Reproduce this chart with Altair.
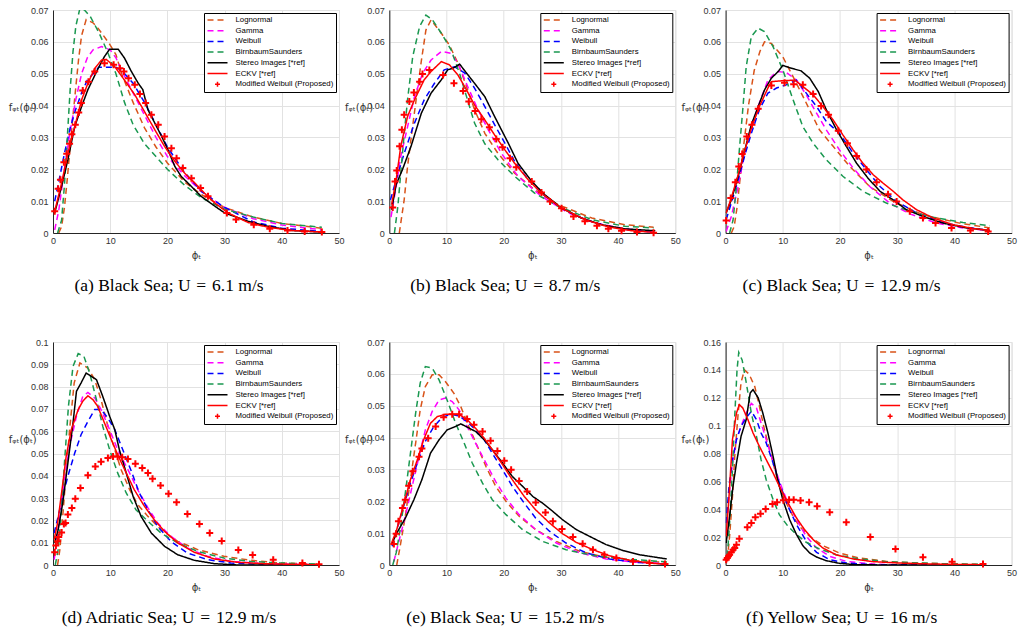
import altair as alt
import pandas as pd

SERIES = ["Lognormal", "Gamma", "Weibull", "BirnbaumSaunders",
          "Stereo Images [*ref]", "ECKV [*ref]", "Modified Weibull (Proposed)"]
COLORS = ["#D95319", "#FF00FF", "#0000FF", "#1A9850", "#000000", "#FF0000", "#FF0000"]
DASHES = [[6, 4], [6, 4], [6, 4], [6, 4], [1, 0], [1, 0], [1, 0]]
PLUS = "M-0.25,0H0.25M0,-0.25V0.25"
SHAPES = ["stroke"] * 6 + [PLUS]

X_TICKS = [0, 10, 20, 30, 40, 50]
Y_TICKS_07 = [0, 0.01, 0.02, 0.03, 0.04, 0.05, 0.06, 0.07]
Y_TICKS_10 = [0, 0.01, 0.02, 0.03, 0.04, 0.05, 0.06, 0.07, 0.08, 0.09, 0.1]
Y_TICKS_16 = [0, 0.02, 0.04, 0.06, 0.08, 0.1, 0.12, 0.14, 0.16]

CAPTIONS = ["(a) Black Sea; U\u2004=\u20046.1 m/s", "(b) Black Sea; U\u2004=\u20048.7 m/s",
            "(c) Black Sea; U\u2004=\u200412.9 m/s", "(d) Adriatic Sea; U\u2004=\u200412.9 m/s",
            "(e) Black Sea; U\u2004=\u200415.2 m/s", "(f) Yellow Sea; U\u2004=\u200416 m/s"]

# ---------------- panel (a) ----------------
A_LOGN = [(1, 0), (1.5, 0.002), (2, 0.008), (2.5, 0.017), (3, 0.027), (3.5, 0.037), (4, 0.046),
          (4.5, 0.055), (5, 0.062), (5.8, 0.067), (7, 0.066), (8, 0.064), (10, 0.059), (11, 0.056),
          (12, 0.050), (14, 0.041), (16, 0.033), (18, 0.027), (20, 0.022), (23, 0.016), (26, 0.012),
          (30, 0.008), (35, 0.005), (40, 0.003), (47, 0.0015)]
A_GAMMA = [(0.3, 0.001), (1, 0.007), (2, 0.020), (3, 0.032), (4, 0.042), (5, 0.050), (6, 0.055),
           (7, 0.0575), (8.5, 0.0585), (10, 0.0575), (11, 0.055), (12, 0.051), (14, 0.044), (16, 0.037),
           (18, 0.030), (20, 0.024), (23, 0.018), (26, 0.013), (30, 0.008), (35, 0.0045), (40, 0.0025),
           (47, 0.001)]
A_WEIB = [(0.3, 0.010), (1, 0.016), (2, 0.025), (3, 0.033), (4, 0.039), (5, 0.044), (6, 0.048),
          (7, 0.050), (8, 0.052), (9, 0.052), (10, 0.052), (11, 0.052), (12, 0.051), (14, 0.047),
          (16, 0.041), (18, 0.034), (20, 0.027), (23, 0.019), (26, 0.013), (30, 0.008), (35, 0.0035),
          (40, 0.0015), (47, 0.0005)]
A_BS = [(0.8, 0), (1.5, 0.004), (2, 0.015), (2.5, 0.030), (3, 0.045), (3.5, 0.057), (4, 0.065),
        (4.7, 0.0705), (5.5, 0.070), (6.5, 0.068), (8, 0.063), (9.5, 0.057), (11, 0.050), (12.5, 0.041),
        (14, 0.034), (16, 0.028), (18, 0.024), (20, 0.020), (23, 0.015), (26, 0.011), (30, 0.0075),
        (35, 0.005), (40, 0.003), (47, 0.0018)]
A_STEREO = [(0.3, 0.0063), (1.5, 0.0146), (2.6, 0.023), (3.8, 0.0334), (5, 0.0397), (6.1, 0.045),
            (7.9, 0.0517), (9, 0.0554), (9.9, 0.0577), (11.4, 0.0577), (12.5, 0.0549), (13.7, 0.0507),
            (14.9, 0.047), (15.7, 0.045), (16.6, 0.0387), (17.8, 0.0345), (19, 0.0303), (20.1, 0.0261),
            (21.3, 0.0209), (22.4, 0.0178), (24.2, 0.0146), (25.9, 0.0115), (28.3, 0.0084), (30, 0.0063),
            (34.1, 0.0037), (37.6, 0.0021), (41.7, 0.0008), (47, 0.0003)]
A_ECKV = [(0.3, 0.0068), (1.5, 0.0157), (2.6, 0.025), (3.8, 0.0334), (5, 0.0418), (6.1, 0.047),
          (7.3, 0.0517), (8.5, 0.0543), (9.3, 0.0545), (10.8, 0.0522), (12.5, 0.048), (14.3, 0.0434),
          (16, 0.0381), (17.8, 0.0324), (19.5, 0.0272), (21.3, 0.0225), (23, 0.0188), (24.8, 0.0157),
          (26.5, 0.0125), (28.3, 0.0094), (30.6, 0.0063), (34.1, 0.0033), (37.6, 0.0018), (41.7, 0.0008),
          (47, 0.0003)]
A_MW = [(0.3, 0.0068), (0.9, 0.0139), (1.3, 0.0167), (1.9, 0.0222), (2.4, 0.0249), (2.9, 0.028),
        (3.3, 0.031), (3.9, 0.034), (4.5, 0.0378), (4.96, 0.0408), (5.2, 0.0447), (6.2, 0.0475),
        (7.3, 0.0507), (9.0, 0.0533), (10.6, 0.0528), (11.7, 0.0517), (12.4, 0.0507), (13.2, 0.0486),
        (14.3, 0.0465), (15.2, 0.0436), (16.2, 0.0408), (17.2, 0.0371), (18.4, 0.034), (19.5, 0.0303),
        (20.7, 0.0266), (21.6, 0.0235), (22.7, 0.0204), (24.2, 0.0172), (25.8, 0.0141), (27.1, 0.0115),
        (30.4, 0.0063), (32.0, 0.0042), (35.1, 0.0026), (37.9, 0.0013), (41.0, 0.0008), (44.0, 0.0005),
        (47.0, 0.0003)]

# ---------------- panel (b) ----------------
B_LOGN = [(1.75, 0), (2.6, 0.0104), (3.2, 0.021), (3.9, 0.031), (4.7, 0.042), (5.6, 0.054), (6.4, 0.0637),
          (7.3, 0.0669), (9.1, 0.0627), (10.5, 0.059), (12, 0.0533), (13.5, 0.046), (14.9, 0.0387),
          (16.7, 0.0313), (19, 0.025), (21.9, 0.0188), (25.4, 0.0136), (29.5, 0.0089), (35.4, 0.0047),
          (41.2, 0.0026), (46.2, 0.0018)]
B_GAMMA = [(0.3, 0.005), (1.2, 0.0146), (2, 0.024), (3.2, 0.0334), (4.4, 0.0428), (5.8, 0.050),
           (7.3, 0.0543), (9.1, 0.057), (10.8, 0.0564), (12, 0.0533), (13.7, 0.046), (15.5, 0.0387),
           (17.3, 0.0324), (19.6, 0.025), (22.5, 0.0178), (26.6, 0.0115), (31.3, 0.0063), (36, 0.0031),
           (41.2, 0.0013), (46.2, 0.0005)]
B_WEIB = [(0.2, 0.0104), (1.2, 0.0167), (2.6, 0.025), (4.4, 0.0345), (6.1, 0.0418), (7.9, 0.047),
          (9.6, 0.0512), (11.4, 0.0522), (13.2, 0.0502), (14.9, 0.0455), (16.7, 0.0397), (18.4, 0.034),
          (20.2, 0.0282), (21.9, 0.0225), (24.3, 0.0167), (26.6, 0.0125), (30.1, 0.0078), (34.2, 0.0042),
          (38.3, 0.0021), (42.4, 0.0008), (46.2, 0.0003)]
B_BS = [(0.9, 0), (1.5, 0.0084), (2, 0.0188), (2.6, 0.031), (3.2, 0.042), (4.1, 0.0554), (5.3, 0.0648),
        (6.4, 0.0684), (7.5, 0.067), (9.1, 0.0627), (10.8, 0.0575), (12.3, 0.050), (13.5, 0.0428),
        (14.9, 0.0345), (16.7, 0.028), (19, 0.023), (21.9, 0.0178), (25.4, 0.0125), (29.5, 0.0084),
        (35.4, 0.0042), (41.2, 0.0021), (46.2, 0.0016)]
B_STEREO = [(0.4, 0.0073), (1.2, 0.0152), (2.3, 0.0199), (3.8, 0.0272), (5.6, 0.0376), (7.3, 0.0439),
            (9.1, 0.0481), (10.2, 0.0512), (11.1, 0.0517), (12.3, 0.053), (13.5, 0.0502), (14.9, 0.047),
            (16.7, 0.0428), (18.4, 0.0366), (19.6, 0.0324), (20.8, 0.0282), (22.5, 0.0219), (24.9, 0.0162),
            (27.2, 0.012), (30.1, 0.0078), (33.6, 0.0047), (37.1, 0.0026), (41.2, 0.0013), (46.5, 0.0007)]
B_ECKV = [(0.4, 0.0089), (1.2, 0.0167), (2, 0.0272), (3.2, 0.0366), (4.4, 0.0418), (6.1, 0.0481),
          (7.3, 0.0507), (9.1, 0.0538), (10.5, 0.0528), (12, 0.0496), (13.5, 0.0449), (14.9, 0.0402),
          (16.7, 0.0355), (18.4, 0.0308), (20.2, 0.0261), (21.9, 0.0219), (24.3, 0.0167), (26.6, 0.0125),
          (30.1, 0.0078), (34.2, 0.0042), (38.3, 0.0019), (42.4, 0.0007), (46.2, 0.0002)]
B_MW = [(0.6, 0.008), (1.0, 0.0162), (1.3, 0.0196), (1.8, 0.0272), (2.2, 0.0324), (2.6, 0.0371),
        (3.5, 0.0413), (4.3, 0.0441), (5.3, 0.0475), (5.8, 0.0499), (7.0, 0.0512), (9.4, 0.0496),
        (11.3, 0.047), (12.9, 0.0446), (13.9, 0.0413), (15.0, 0.0383), (16.1, 0.0357), (17.5, 0.0332),
        (18.7, 0.0295), (19.8, 0.0269), (21.1, 0.0235), (22.2, 0.0206), (24.9, 0.0162), (26.6, 0.0127),
        (28.1, 0.0099), (30.1, 0.0078), (32.2, 0.0052), (34.2, 0.0037), (36.3, 0.0023), (38.3, 0.0013),
        (40.6, 0.0007), (43.3, 0.0003), (46.2, 0.0001)]

# ---------------- panel (c) ----------------
C_LOGN = [(1, 0), (1.5, 0.002), (2, 0.008), (3, 0.025), (4, 0.040), (5, 0.051), (6, 0.057), (6.8, 0.060),
          (8, 0.0595), (10, 0.0553), (12.1, 0.048), (14.1, 0.0408), (16.4, 0.0324), (18.8, 0.0272),
          (21.7, 0.0209), (25.2, 0.0146), (29.3, 0.0099), (34.5, 0.0057), (40.9, 0.0031), (46.2, 0.0016)]
C_GAMMA = [(0.1, 0.0005), (1, 0.0052), (2.2, 0.0146), (3.3, 0.025), (4.5, 0.0334), (5.9, 0.0408),
           (7.4, 0.048), (8.9, 0.0507), (10.6, 0.0504), (12.4, 0.048), (14.1, 0.0434), (15.9, 0.0376),
           (17.6, 0.0324), (19.9, 0.0261), (22.3, 0.0204), (25.2, 0.0146), (28.7, 0.0094), (32.2, 0.006),
           (36.9, 0.0031), (41.5, 0.0016), (46.2, 0.0007)]
C_WEIB = [(0.1, 0.0042), (1, 0.0094), (2.2, 0.0167), (3.3, 0.024), (4.5, 0.0313), (5.9, 0.0387),
          (7.4, 0.0439), (8.9, 0.0455), (10.6, 0.0465), (12.4, 0.048), (14.1, 0.0439), (15.9, 0.0397),
          (17.6, 0.035), (19.9, 0.0313), (22.3, 0.0251), (24.6, 0.0199), (27, 0.0146), (29.9, 0.0099),
          (33.4, 0.0063), (38, 0.0033), (42.1, 0.0018), (46.2, 0.0008)]
C_BS = [(0.7, 0), (1.3, 0.004), (1.9, 0.0146), (2.4, 0.026), (3, 0.0387), (3.6, 0.0522), (4.5, 0.0617),
        (5.7, 0.0643), (6.8, 0.0632), (8.3, 0.0585), (10, 0.0512), (11.8, 0.0418), (13.5, 0.0334),
        (15.3, 0.0282), (17.6, 0.023), (20.5, 0.0178), (24, 0.0131), (28.1, 0.0094), (32.2, 0.0068),
        (36.9, 0.0047), (41.5, 0.0033), (46.2, 0.0023)]
C_STEREO = [(0.1, 0.0063), (1, 0.0104), (2.2, 0.0178), (3.3, 0.0256), (4.5, 0.034), (5.7, 0.0397),
            (6.8, 0.0449), (8, 0.0486), (9.2, 0.0507), (10, 0.0526), (11.5, 0.0517), (13.2, 0.0509),
            (14.7, 0.0486), (16.2, 0.0444), (17.6, 0.0387), (19.4, 0.0324), (21.1, 0.0272), (22.9, 0.0219),
            (24.9, 0.0172), (27, 0.0131), (29.3, 0.0104), (31.6, 0.0073), (34.5, 0.0052), (38, 0.0031),
            (42.1, 0.0016), (46.2, 0.0008)]
C_ECKV = [(0.1, 0.0063), (1, 0.011), (2.2, 0.0183), (3.3, 0.0256), (4.5, 0.0329), (5.9, 0.0397),
          (7.4, 0.0455), (8, 0.0475), (10, 0.0478), (12.1, 0.048), (13.5, 0.046), (15.3, 0.0434),
          (17, 0.0397), (18.8, 0.0355), (20.5, 0.0308), (22.3, 0.0261), (24, 0.0219), (25.8, 0.0183),
          (27.5, 0.0157), (29.3, 0.0131), (31, 0.0104), (33.4, 0.0073), (36.3, 0.0047), (39.8, 0.0026),
          (43.3, 0.0014), (46.2, 0.0008)]
C_MW = [(0.1, 0.0039), (0.9, 0.011), (1.7, 0.0159), (2.3, 0.0209), (2.9, 0.0248), (3.7, 0.0303),
        (4.6, 0.034), (5.7, 0.039), (8.0, 0.0463), (10.3, 0.0472), (11.9, 0.0467), (13.5, 0.0465),
        (15.3, 0.0436), (16.7, 0.0399), (18.0, 0.0371), (19.7, 0.0321), (21.3, 0.0282), (22.9, 0.0242),
        (24.6, 0.0199), (26.4, 0.0159), (28.4, 0.0122), (29.9, 0.0099), (32.2, 0.0068), (34.5, 0.0047),
        (36.7, 0.0031), (39.5, 0.0016), (42.8, 0.0008), (45.9, 0.0005)]

# ---------------- panel (d) ----------------
D_LOGN = [(0.8, 0), (1.2, 0.0069), (1.7, 0.0218), (2.3, 0.0413), (2.9, 0.0607), (3.7, 0.0816),
          (4.7, 0.0906), (6.1, 0.0883), (7.3, 0.0831), (8.4, 0.0741), (9.6, 0.0622), (10.8, 0.0517),
          (11.9, 0.0428), (13.4, 0.0338), (14.8, 0.0271), (16.6, 0.0218), (18.9, 0.0158), (21.8, 0.0106),
          (25.3, 0.0069), (29.9, 0.0039), (34.6, 0.0021), (39.8, 0.0009), (46.5, 0.0003)]
D_GAMMA = [(0.2, 0.0024), (0.6, 0.0099), (1.2, 0.0218), (2, 0.0383), (2.9, 0.0532), (4.1, 0.0667),
           (5.2, 0.0756), (6.1, 0.0774), (7.3, 0.0749), (8.4, 0.0697), (9.9, 0.0607), (11.3, 0.0517),
           (13.1, 0.0428), (14.8, 0.0338), (16.6, 0.0256), (18.3, 0.0188), (20.6, 0.0129), (23.5, 0.0076),
           (27, 0.0039), (31.1, 0.0016), (36.9, 0.0006), (46.5, 0.0001)]
D_WEIB = [(0.2, 0.0143), (0.9, 0.0218), (1.7, 0.0308), (2.6, 0.0398), (3.8, 0.0502), (4.9, 0.0584),
          (6.1, 0.0644), (7.3, 0.0697), (8.4, 0.0697), (9.6, 0.0659), (10.8, 0.0607), (12.2, 0.0517),
          (13.7, 0.042), (15.1, 0.0323), (16.6, 0.0248), (18.3, 0.0173), (20.6, 0.0106), (23.5, 0.0054),
          (27, 0.0024), (31.1, 0.0009), (36.9, 0.0003), (46.5, 0)]
D_BS = [(0.4, 0), (0.9, 0.0069), (1.5, 0.0248), (2, 0.0457), (2.7, 0.0712), (3.5, 0.0891), (4.4, 0.0948),
        (5.4, 0.0936), (6.4, 0.0861), (7.6, 0.0741), (8.7, 0.0622), (9.9, 0.0517), (11.3, 0.0413),
        (12.8, 0.0323), (14.5, 0.0248), (16.6, 0.0196), (18.9, 0.0143), (21.8, 0.0099), (25.3, 0.0061),
        (29.9, 0.0031), (34.6, 0.0016), (39.8, 0.0009), (46.5, 0.0004)]
D_STEREO = [(0.3, 0.0099), (0.9, 0.0158), (1.7, 0.0278), (2.6, 0.0457), (3.5, 0.0637), (4.1, 0.0779),
            (4.9, 0.0816), (5.8, 0.0861), (6.7, 0.0846), (7.6, 0.0831), (8.7, 0.0756), (9.9, 0.0667),
            (10.8, 0.0607), (11.6, 0.0517), (12.8, 0.0413), (14, 0.0308), (15.4, 0.0218), (17.2, 0.0143),
            (19.5, 0.0084), (21.8, 0.0046), (24.7, 0.0021), (28.2, 0.0006), (32.3, 0), (46.5, 0)]
D_ECKV = [(0.2, 0.0114), (0.8, 0.0188), (1.5, 0.0323), (2.3, 0.0487), (3.2, 0.0607), (4.4, 0.0697),
          (5.2, 0.0734), (6.1, 0.0759), (7, 0.0741), (7.8, 0.0712), (9, 0.0637), (10.2, 0.0562),
          (11.3, 0.0495), (12.8, 0.0413), (14.2, 0.0338), (16, 0.0263), (17.7, 0.0203), (19.5, 0.0151),
          (21.8, 0.0099), (24.7, 0.0057), (28.2, 0.0027), (32.3, 0.0012), (36.9, 0.0006), (41.6, 0.0003),
          (46.5, 0.0001)]
D_MW = [(0.3, 0.0057), (0.5, 0.0087), (0.8, 0.0106), (1.0, 0.0126), (1.5, 0.0146), (1.9, 0.0184),
        (2.2, 0.0188), (2.6, 0.0226), (3.3, 0.0256), (3.9, 0.0297), (4.8, 0.0345), (6.1, 0.0402),
        (7.4, 0.0442), (8.4, 0.0463), (9.6, 0.048), (10.5, 0.0486), (11.3, 0.0486), (12.1, 0.0483),
        (13.1, 0.0475), (14.4, 0.0454), (15.6, 0.0435), (16.6, 0.0413), (17.4, 0.0387), (18.8, 0.0356),
        (20.2, 0.032), (21.6, 0.0281), (23.5, 0.0229), (25.6, 0.0184), (27.4, 0.0144), (29.5, 0.0108),
        (32.4, 0.0067), (34.9, 0.0045), (38.5, 0.0024), (43.6, 0.0009), (46.5, 0.0003)]

# ---------------- panel (e) ----------------
E_LOGN = [(1.3, 0), (1.9, 0.0059), (2.8, 0.0153), (3.7, 0.0268), (4.6, 0.0382), (5.4, 0.0487), (6.3, 0.056),
          (7.5, 0.0597), (8.7, 0.0597), (9.8, 0.0576), (11.3, 0.0539), (12.5, 0.0497), (13.9, 0.0435),
          (15.4, 0.0372), (16.9, 0.0309), (18.6, 0.0247), (20.4, 0.020), (22.7, 0.0153), (25.6, 0.0111),
          (29.2, 0.0074), (33.3, 0.0043), (37.9, 0.0024), (42.6, 0.0014), (48.5, 0.0008)]
E_GAMMA = [(0.8, 0.0011), (1.6, 0.0069), (2.8, 0.0153), (4, 0.0247), (5.2, 0.0341), (6.3, 0.0424),
           (7.5, 0.0482), (8.7, 0.0518), (9.8, 0.0524), (11, 0.0513), (12.2, 0.0487), (13.6, 0.0435),
           (15.1, 0.0382), (16.9, 0.032), (18.6, 0.0262), (20.4, 0.021), (22.7, 0.0158), (25.6, 0.0111),
           (29.2, 0.0069), (33.3, 0.0038), (37.9, 0.0019), (42.6, 0.0009), (48.5, 0.0004)]
E_WEIB = [(0.5, 0.0059), (1.3, 0.0111), (2.5, 0.0184), (3.7, 0.0257), (4.9, 0.032), (6.3, 0.0388),
          (7.8, 0.0435), (9.3, 0.0464), (10.7, 0.0473), (12.2, 0.0468), (13.6, 0.045), (15.1, 0.0424),
          (16.6, 0.0393), (18, 0.0351), (19.8, 0.0299), (21.5, 0.0247), (23.6, 0.0194), (25.6, 0.0147),
          (28, 0.0106), (30.9, 0.0069), (34.4, 0.0038), (38.5, 0.0019), (43.2, 0.0008), (48.5, 0.0003)]
E_BS = [(0.6, 0), (1.2, 0.0038), (1.9, 0.0111), (2.8, 0.0226), (3.7, 0.0351), (4.6, 0.0476), (5.4, 0.0571),
        (6.3, 0.0623), (7.5, 0.0618), (8.7, 0.0581), (10.1, 0.0518), (11.6, 0.0445), (13.1, 0.0382),
        (14.5, 0.032), (16.3, 0.0257), (18, 0.0205), (20.4, 0.0158), (23.3, 0.0111), (26.8, 0.0074),
        (30.9, 0.0048), (35.6, 0.003), (40.9, 0.0019), (48.5, 0.001)]
E_STEREO = [(0.5, 0.0069), (1.3, 0.010), (2.8, 0.0147), (4.3, 0.0205), (5.7, 0.0268), (7.2, 0.0351),
            (8.7, 0.0393), (10.1, 0.0424), (11.6, 0.0435), (12.5, 0.0443), (13.6, 0.0433), (15.1, 0.0419),
            (16.6, 0.0393), (18, 0.0362), (19.8, 0.032), (21.5, 0.0278), (23.3, 0.0247), (25.1, 0.0215),
            (26.8, 0.0194), (28.6, 0.0168), (30.3, 0.0142), (32.7, 0.0111), (35, 0.009), (37.9, 0.0064),
            (40.9, 0.0045), (43.8, 0.0032), (48.5, 0.0019)]
E_ECKV = [(0.4, 0.0069), (1.3, 0.0111), (2.5, 0.0189), (3.7, 0.0268), (4.9, 0.033), (6, 0.0393),
          (7.2, 0.0445), (8.4, 0.0466), (9.8, 0.0473), (12.2, 0.0473), (13.6, 0.0456), (15.1, 0.0429),
          (16.6, 0.0398), (18, 0.0362), (19.8, 0.0315), (21.5, 0.0268), (23.6, 0.0215), (25.6, 0.0173),
          (28, 0.0132), (30.3, 0.0098), (32.7, 0.0071), (35.6, 0.0048), (38.5, 0.0029), (42, 0.0015),
          (45.5, 0.0006), (48.5, 0.0002)]
E_MW = [(0.8, 0.0066), (1.2, 0.0098), (1.6, 0.0137), (2.3, 0.0179), (2.8, 0.0205), (3.4, 0.0249),
        (4.1, 0.0294), (5.2, 0.034), (5.7, 0.0366), (6.8, 0.0398), (8.1, 0.0435), (9.5, 0.0464),
        (11.0, 0.0473), (12.2, 0.0473), (13.6, 0.0458), (14.8, 0.044), (16.3, 0.0419), (17.7, 0.039),
        (18.9, 0.0358), (20.1, 0.0327), (21.3, 0.0299), (22.7, 0.0264), (24.1, 0.0231), (25.6, 0.0196),
        (27.3, 0.0165), (28.6, 0.0137), (30.2, 0.0113), (32.1, 0.0088), (33.8, 0.0067), (35.6, 0.0048),
        (37.6, 0.0032), (39.7, 0.0022), (42.6, 0.0011), (45.5, 0.0006), (48.2, 0.0003)]

# ---------------- panel (f) ----------------
F_LOGN = [(0.3, 0.0038), (0.7, 0.0206), (1.2, 0.0493), (1.6, 0.078), (2.2, 0.109), (2.7, 0.131),
          (3.3, 0.140), (4.1, 0.137), (5.1, 0.128), (5.9, 0.114), (6.8, 0.097), (7.7, 0.0828), (8.6, 0.0684),
          (9.4, 0.0565), (10.6, 0.0445), (11.8, 0.0349), (12.9, 0.0278), (14.7, 0.0206), (17, 0.0139),
          (19.9, 0.0086), (23.4, 0.005), (28.1, 0.0026), (33.9, 0.0014), (40.3, 0.0007), (45, 0.0005)]
F_GAMMA = [(0.1, 0.023), (0.6, 0.0493), (1.2, 0.0732), (1.9, 0.090), (2.7, 0.0995), (3.6, 0.109),
           (4.5, 0.116), (5.4, 0.1127), (6.2, 0.1019), (7.1, 0.090), (8.3, 0.0744), (9.4, 0.060),
           (10.9, 0.0445), (12.4, 0.0325), (14.1, 0.0206), (15.9, 0.0122), (18.2, 0.0062), (21.1, 0.0026),
           (25.8, 0.0007), (31.6, 0), (45, 0)]
F_WEIB = [(0.1, 0.0301), (0.6, 0.0565), (1.2, 0.0756), (1.9, 0.090), (2.7, 0.0995), (3.6, 0.1055),
          (4.5, 0.1103), (5.4, 0.1043), (6.2, 0.0947), (7.1, 0.0876), (8.3, 0.0732), (9.4, 0.0589),
          (10.9, 0.0421), (12.4, 0.029), (14.1, 0.017), (15.9, 0.0091), (18.2, 0.0038), (21.1, 0.0014),
          (25.8, 0.0002), (45, 0)]
F_BS = [(0.3, 0.0062), (0.7, 0.0301), (1.2, 0.0684), (1.6, 0.107), (2, 0.140), (2.3, 0.1526), (2.9, 0.147),
        (3.6, 0.131), (4.5, 0.109), (5.4, 0.0923), (6.2, 0.0756), (7.1, 0.0612), (8.3, 0.0469), (9.4, 0.0361),
        (10.9, 0.0278), (12.4, 0.0218), (14.1, 0.0163), (16.4, 0.0115), (19.3, 0.0074), (23.4, 0.0043),
        (28.1, 0.0024), (33.9, 0.0014), (40.3, 0.0007), (45, 0.0005)]
F_STEREO = [(0.1, 0.0158), (0.7, 0.0349), (1.3, 0.0565), (1.9, 0.0732), (2.7, 0.0923), (3.6, 0.1043),
            (4.3, 0.1234), (4.8, 0.1258), (5.7, 0.1199), (6.5, 0.1091), (7.4, 0.0947), (8.3, 0.078),
            (9.1, 0.0612), (10, 0.0469), (11.2, 0.0325), (12.4, 0.0218), (13.5, 0.0139), (14.7, 0.0086),
            (15.9, 0.0057), (17.6, 0.0031), (19.9, 0.0012), (22.8, 0.0002), (28.7, 0), (45, 0)]
F_ECKV = [(0.1, 0.0206), (0.6, 0.0493), (1.2, 0.090), (1.9, 0.109), (2.4, 0.1151), (3, 0.1127),
          (3.9, 0.1043), (4.8, 0.0947), (5.9, 0.0852), (7.1, 0.0756), (8.3, 0.066), (9.4, 0.0565),
          (10.9, 0.0445), (12.4, 0.0337), (13.8, 0.0254), (15.3, 0.0182), (17, 0.0122), (19.3, 0.0074),
          (22.3, 0.0043), (25.8, 0.0024), (30.4, 0.0014), (36.2, 0.0007), (45, 0.0002)]
F_MW = [(0.1, 0.0038), (0.3, 0.005), (0.5, 0.0062), (0.7, 0.0074), (1.0, 0.0091), (1.3, 0.011),
        (1.6, 0.0122), (1.9, 0.0146), (2.4, 0.0189), (3.8, 0.027), (4.5, 0.0301), (5.2, 0.0342),
        (6.1, 0.0368), (7.0, 0.0402), (8.2, 0.0438), (9.0, 0.045), (10.1, 0.0464), (11.1, 0.0469),
        (11.9, 0.0469), (13.1, 0.0462), (14.6, 0.045), (16.0, 0.0421), (18.2, 0.0378), (21.1, 0.0306),
        (25.3, 0.0201), (29.7, 0.0115), (34.5, 0.0055), (39.6, 0.0024), (45.0, 0.0007)]

PANELS = [
    ([A_LOGN, A_GAMMA, A_WEIB, A_BS, A_STEREO, A_ECKV], A_MW, Y_TICKS_07),
    ([B_LOGN, B_GAMMA, B_WEIB, B_BS, B_STEREO, B_ECKV], B_MW, Y_TICKS_07),
    ([C_LOGN, C_GAMMA, C_WEIB, C_BS, C_STEREO, C_ECKV], C_MW, Y_TICKS_07),
    ([D_LOGN, D_GAMMA, D_WEIB, D_BS, D_STEREO, D_ECKV], D_MW, Y_TICKS_10),
    ([E_LOGN, E_GAMMA, E_WEIB, E_BS, E_STEREO, E_ECKV], E_MW, Y_TICKS_07),
    ([F_LOGN, F_GAMMA, F_WEIB, F_BS, F_STEREO, F_ECKV], F_MW, Y_TICKS_16),
]

PW, PH = 286, 223
TXT = "#333333"


def make_legend():
    return alt.Legend(title=None, orient="top-right", offset=3, fillColor="white",
                      strokeColor="#000000", padding=2.5, labelFont="Liberation Sans",
                      labelFontSize=7.8, labelColor="#000000", symbolSize=400,
                      symbolStrokeWidth=1.5, labelOffset=7, rowPadding=1.7, clipHeight=9,
                      cornerRadius=0)


def panel(curves, markers, yticks, caption):
    rows = []
    for name, pts in zip(SERIES[:6], curves):
        for i, (x, y) in enumerate(pts):
            rows.append({"series": name, "x": x, "y": y, "o": i})
    df_lines = pd.DataFrame(rows)
    df_pts = pd.DataFrame({"series": [SERIES[6]] * len(markers),
                           "x": [p[0] for p in markers], "y": [p[1] for p in markers]})
    color = alt.Color("series:N", scale=alt.Scale(domain=SERIES, range=COLORS), legend=make_legend())
    dash = alt.StrokeDash("series:N", scale=alt.Scale(domain=SERIES, range=DASHES), legend=make_legend())
    shape = alt.Shape("series:N", scale=alt.Scale(domain=SERIES, range=SHAPES), legend=make_legend())
    xaxis = alt.Axis(values=X_TICKS, title="ϕₜ", labelFlush=False, ticks=False, grid=True,
                     gridColor="#e2e2e2", domainColor="#262626", labelFont="Liberation Sans",
                     labelFontSize=9, labelColor=TXT, labelPadding=3, titleFont="DejaVu Sans",
                     titleFontSize=10, titleFontWeight="normal", titleColor=TXT, titlePadding=5)
    yaxis = alt.Axis(values=yticks, format="~g", title="fᵩₜ(ϕₜ)", ticks=False, grid=True,
                     gridColor="#e2e2e2", domainColor="#262626", labelFont="Liberation Sans",
                     labelFontSize=9, labelColor=TXT, labelPadding=5, titleFont="DejaVu Sans",
                     titleFontSize=10, titleFontWeight="normal", titleColor=TXT, titleAngle=0,
                     titleAlign="left", titleBaseline="middle", titleX=-44.7, titleY=97)
    x = alt.X("x:Q", scale=alt.Scale(domain=[0, 50], nice=False), axis=xaxis)
    y = alt.Y("y:Q", scale=alt.Scale(domain=[0, yticks[-1]], nice=False), axis=yaxis)
    lines = alt.Chart(df_lines).mark_line(strokeWidth=1.5, clip=True).encode(
        x=x, y=y, color=color, strokeDash=dash, order="o:Q")
    points = alt.Chart(df_pts).mark_point(size=784, strokeWidth=2, opacity=1, filled=False).encode(
        x=x, y=y, color=color, shape=shape, strokeDash=dash)
    return alt.layer(lines, points).properties(
        width=PW, height=PH,
        title=alt.TitleParams(caption, orient="bottom", anchor="middle", font="Liberation Serif",
                              fontSize=17.5, fontWeight="normal", color="#000000", offset=17, dx=-27))


charts = [panel(c, m, t, cap) for (c, m, t), cap in zip(PANELS, CAPTIONS)]

chart = alt.concat(*charts, columns=3, spacing={"row": 109, "column": 50.3}, bounds="flush").resolve_scale(
    color="independent", strokeDash="independent", shape="independent",
    x="independent", y="independent"
).properties(
    padding={"left": 7, "top": 5, "right": 5, "bottom": 5}
).configure_view(stroke=None).configure(background="white")

chart.save("out.html", embed_options={"renderer": "svg", "actions": False})
